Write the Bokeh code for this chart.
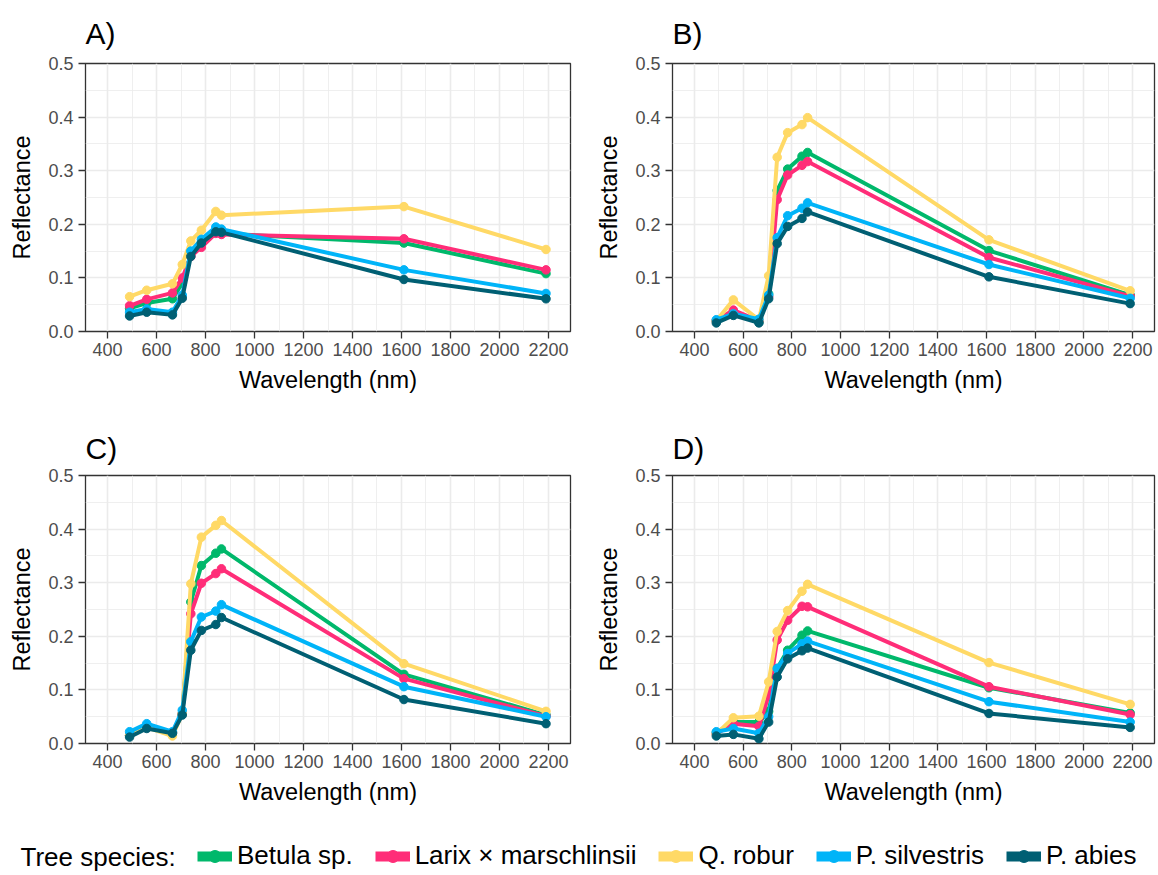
from bokeh.plotting import figure
from bokeh.layouts import column, row
from bokeh.models import (FixedTicker, Legend, LegendItem, Label, Range1d,
                          ColumnDataSource, PrintfTickFormatter)
from bokeh.embed import file_html
from bokeh.resources import INLINE

FONT = "Liberation Sans"

wavelength = [490, 560, 665, 705, 740, 783, 842, 865, 1610, 2190]
species = ["Betula sp.", "Larix × marschlinsii", "Q. robur", "P. silvestris", "P. abies"]
colors = ["#00B86B", "#FF2D78", "#FFD966", "#00B4F8", "#005F73"]

x_ticks = [400, 600, 800, 1000, 1200, 1400, 1600, 1800, 2000, 2200]
x_minor = [500, 700, 900, 1100, 1300, 1500, 1700, 1900, 2100]
y_ticks = [0.0, 0.1, 0.2, 0.3, 0.4, 0.5]
y_minor = [0.05, 0.15, 0.25, 0.35, 0.45]

# Panel A
a_betula = [0.043, 0.053, 0.061, 0.090, 0.145, 0.165, 0.185, 0.183, 0.165, 0.108]
a_larix = [0.048, 0.060, 0.072, 0.100, 0.140, 0.157, 0.183, 0.181, 0.173, 0.115]
a_robur = [0.065, 0.077, 0.089, 0.125, 0.169, 0.189, 0.224, 0.217, 0.233, 0.153]
a_silvestris = [0.036, 0.042, 0.036, 0.068, 0.150, 0.172, 0.195, 0.191, 0.115, 0.071]
a_abies = [0.029, 0.036, 0.031, 0.062, 0.140, 0.165, 0.186, 0.185, 0.097, 0.061]

# Panel B
b_betula = [0.020, 0.036, 0.018, 0.070, 0.263, 0.303, 0.327, 0.334, 0.151, 0.068]
b_larix = [0.020, 0.040, 0.020, 0.065, 0.246, 0.292, 0.310, 0.317, 0.138, 0.066]
b_robur = [0.020, 0.059, 0.022, 0.104, 0.325, 0.371, 0.386, 0.399, 0.171, 0.076]
b_silvestris = [0.022, 0.033, 0.023, 0.068, 0.175, 0.216, 0.230, 0.240, 0.125, 0.062]
b_abies = [0.016, 0.030, 0.016, 0.061, 0.164, 0.196, 0.211, 0.223, 0.102, 0.052]

# Panel C
c_betula = [0.015, 0.030, 0.020, 0.055, 0.264, 0.332, 0.355, 0.363, 0.129, 0.053]
c_larix = [0.015, 0.030, 0.020, 0.055, 0.242, 0.299, 0.317, 0.326, 0.121, 0.051]
c_robur = [0.015, 0.030, 0.014, 0.055, 0.298, 0.385, 0.407, 0.416, 0.149, 0.060]
c_silvestris = [0.022, 0.037, 0.022, 0.062, 0.190, 0.236, 0.247, 0.259, 0.106, 0.050]
c_abies = [0.012, 0.028, 0.019, 0.053, 0.174, 0.211, 0.222, 0.235, 0.082, 0.037]

# Panel D
d_betula = [0.020, 0.040, 0.040, 0.060, 0.140, 0.174, 0.202, 0.210, 0.104, 0.057]
d_larix = [0.018, 0.037, 0.032, 0.090, 0.193, 0.230, 0.256, 0.255, 0.106, 0.054]
d_robur = [0.018, 0.048, 0.051, 0.115, 0.209, 0.248, 0.284, 0.297, 0.151, 0.073]
d_silvestris = [0.022, 0.028, 0.019, 0.050, 0.140, 0.168, 0.186, 0.191, 0.078, 0.040]
d_abies = [0.014, 0.017, 0.009, 0.040, 0.124, 0.158, 0.173, 0.178, 0.056, 0.030]

panels = [
    ("A)", [a_betula, a_larix, a_robur, a_silvestris, a_abies]),
    ("B)", [b_betula, b_larix, b_robur, b_silvestris, b_abies]),
    ("C)", [c_betula, c_larix, c_robur, c_silvestris, c_abies]),
    ("D)", [d_betula, d_larix, d_robur, d_silvestris, d_abies]),
]


def make_panel(label, series, left_col, top_row):
    if left_col:
        w, mbl, mbr = 587, 85, 17
    else:
        w, mbl, mbr = 569, 85, 2
    if top_row:
        h, mbt, mbb, stand = 408, 63, 77, 28
    else:
        h, mbt, mbb, stand = 405, 67, 70, 21
    p = figure(width=w, height=h, x_range=Range1d(310, 2290), y_range=Range1d(0, 0.5),
               output_backend="svg", toolbar_location=None,
               min_border_left=mbl, min_border_right=mbr,
               min_border_top=mbt, min_border_bottom=mbb)
    p.title.text = label
    p.title.text_font = FONT
    p.title.text_font_size = "30px"
    p.title.text_font_style = "normal"
    p.title.text_color = "black"
    p.title.align = "left"
    p.title.standoff = stand
    p.background_fill_color = "white"
    p.border_fill_color = "white"
    p.outline_line_color = "#333333"
    p.outline_line_width = 1.3

    p.xaxis.ticker = FixedTicker(ticks=x_ticks, minor_ticks=x_minor)
    p.yaxis.ticker = FixedTicker(ticks=y_ticks, minor_ticks=y_minor)
    p.yaxis.formatter = PrintfTickFormatter(format="%.1f")
    for ax in (p.xaxis[0], p.yaxis[0]):
        ax.axis_line_color = None
        ax.major_tick_line_color = "#333333"
        ax.major_tick_line_width = 1.3
        ax.major_tick_out = 7
        ax.major_tick_in = 0
        ax.minor_tick_line_color = None
        ax.major_label_text_font = FONT
        ax.major_label_text_font_size = "18px"
        ax.major_label_text_color = "#4D4D4D"
        ax.axis_label_text_font = FONT
        ax.axis_label_text_font_size = "23.5px"
        ax.axis_label_text_font_style = "normal"
        ax.axis_label_text_color = "black"
    p.xaxis.axis_label = "Wavelength (nm)"
    p.yaxis.axis_label = "Reflectance"
    p.xaxis.major_label_standoff = 4
    p.yaxis.major_label_standoff = 5
    p.xaxis.axis_label_standoff = 8
    p.yaxis.axis_label_standoff = 10

    for g in (p.xgrid[0], p.ygrid[0]):
        g.grid_line_color = "#EBEBEB"
        g.grid_line_width = 1.6
        g.minor_grid_line_color = "#EBEBEB"
        g.minor_grid_line_width = 0.8

    for name, col, vals in zip(species, colors, series):
        src = ColumnDataSource(dict(x=wavelength, y=vals))
        p.line("x", "y", source=src, line_color=col, line_width=4)
        p.scatter("x", "y", source=src, color=col, size=8.5)
    return p


figs = []
for i, (label, series) in enumerate(panels):
    figs.append(make_panel(label, series, left_col=(i % 2 == 0), top_row=(i < 2)))

# legend strip
lf = figure(width=1156, height=60, x_range=Range1d(0, 1), y_range=Range1d(0, 1),
            output_backend="svg", toolbar_location=None, min_border=0,
            x_axis_location=None, y_axis_location=None, outline_line_color=None)
lf.grid.visible = False
items = []
for name, col in zip(species, colors):
    dummy = ColumnDataSource(dict(x=[-5.0], y=[-5.0]))
    r1 = lf.line("x", "y", source=dummy, line_color=col, line_width=10)
    r2 = lf.scatter("x", "y", source=dummy, color=col, size=14)
    items.append(LegendItem(label=name, renderers=[r1, r2]))
leg = Legend(items=items, orientation="horizontal", location=(197, 2),
             glyph_width=35, glyph_height=30, label_height=30, label_standoff=5,
             spacing=22, padding=0, margin=0, border_line_color=None,
             background_fill_alpha=0,
             label_text_font=FONT, label_text_font_size="26px", label_text_color="black")
lf.add_layout(leg, "center")
lf.add_layout(Label(x=20, y=17, x_units="screen", y_units="screen", text="Tree species:",
                    text_font=FONT, text_font_size="26px", text_baseline="middle",
                    text_color="black"))

layout = column(row(figs[0], figs[1]), row(figs[2], figs[3]), lf)
open("out.html", "w").write(file_html(layout, INLINE))
